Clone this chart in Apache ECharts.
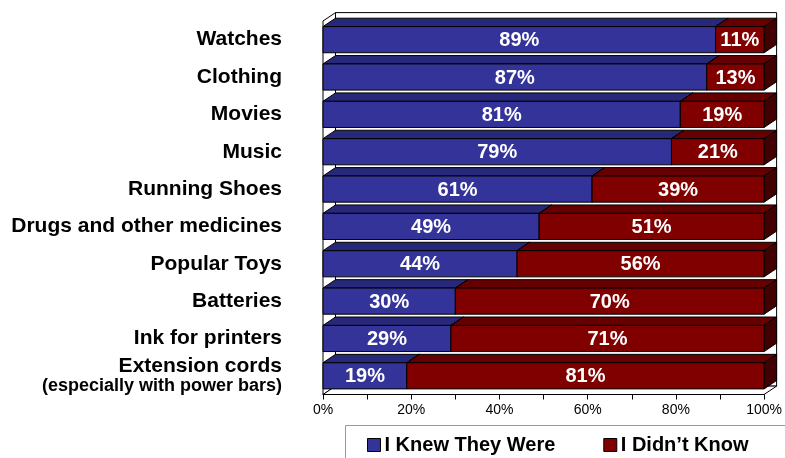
<!DOCTYPE html>
<html>
<head>
<meta charset="utf-8">
<script src="https://cdn.jsdelivr.net/npm/echarts@6/dist/echarts.min.js"></script>
<style>html,body{margin:0;padding:0;background:#fff}#c{width:785px;height:458px}</style>
</head>
<body>
<div id="c"></div>
<script>
const categories = ['Watches','Clothing','Movies','Music','Running Shoes','Drugs and other medicines','Popular Toys','Batteries','Ink for printers','Extension cords'];
const knewValues = [89,87,81,79,61,49,44,30,29,19];
const didntValues = [11,13,19,21,39,51,56,70,71,81];
const seriesNames = ['I Knew They Were','I Didn\u2019t Know'];
const xTicks = [0,20,40,60,80,100];

const DX = 12.5, DY = 8.4;
const FONT = '"Liberation Sans", Arial, sans-serif';

const chart = echarts.init(document.getElementById('c'));

function makeBar(colors) {
  return function (params, api) {
    const start = api.value(0), end = api.value(1), cat = api.value(2), val = api.value(3);
    const p0 = api.coord([start, cat]);
    const p1 = api.coord([end, cat]);
    const bh = api.size([0, 1])[1] * 0.70;
    const x0 = p0[0], x1 = p1[0];
    const yT = p0[1] - bh / 2, yB = p0[1] + bh / 2;
    const stroke = {stroke: '#000', lineWidth: 1};
    return {
      type: 'group',
      children: [
        {type: 'polygon', shape: {points: [[x0, yT], [x1, yT], [x1 + DX, yT - DY], [x0 + DX, yT - DY]]},
         style: Object.assign({fill: colors.top}, stroke)},
        {type: 'polygon', shape: {points: [[x1, yT], [x1 + DX, yT - DY], [x1 + DX, yB - DY], [x1, yB]]},
         style: Object.assign({fill: colors.side}, stroke)},
        {type: 'rect', shape: {x: x0, y: yT, width: x1 - x0, height: bh},
         style: Object.assign({fill: colors.front}, stroke)},
        {type: 'text', x: (x0 + x1) / 2, y: p0[1] + 1,
         style: {text: val + '%', fill: '#fff', font: 'bold 20px ' + FONT, align: 'center', verticalAlign: 'middle'}}
      ]
    };
  };
}

function renderFrame(params, api) {
  const half = api.size([0, 1])[1] / 2;
  const top = api.coord([0, 0])[1] - half;
  const bottom = api.coord([0, categories.length - 1])[1] + half;
  const left = api.coord([0, 0])[0];
  const right = api.coord([100, 0])[0];
  const st = {stroke: '#000', lineWidth: 1};
  return {
    type: 'group',
    children: [
      {type: 'rect', shape: {x: left + DX, y: top - DY, width: right - left, height: bottom - top},
       style: Object.assign({fill: '#fff'}, st)},
      {type: 'polygon', shape: {points: [[left, top], [left + DX, top - DY], [left + DX, bottom - DY], [left, bottom]]},
       style: Object.assign({fill: '#fff'}, st)},
      {type: 'polygon', shape: {points: [[left, bottom], [right, bottom], [right + DX, bottom - DY], [left + DX, bottom - DY]]},
       style: Object.assign({fill: '#fff'}, st)}
    ]
  };
}

const knewData = categories.map((c, i) => [0, knewValues[i], i, knewValues[i]]);
const didntData = categories.map((c, i) => [knewValues[i], knewValues[i] + didntValues[i], i, didntValues[i]]);

chart.setOption({
  animation: false,
  backgroundColor: '#fff',
  textStyle: {fontFamily: FONT},
  grid: {left: 323, right: 18, top: 21, bottom: 63.5, containLabel: false},
  xAxis: {
    type: 'value', min: 0, max: 100, interval: 10,
    axisLine: {show: true, lineStyle: {color: '#000', width: 1}},
    axisTick: {show: true, length: 5, lineStyle: {color: '#000'}},
    splitLine: {show: false},
    axisLabel: {
      margin: 9, color: '#000', fontSize: 14, fontFamily: FONT,
      formatter: v => xTicks.indexOf(v) >= 0 ? v + '%' : ''
    }
  },
  yAxis: {
    type: 'category', inverse: true, data: categories,
    axisLine: {show: true, lineStyle: {color: '#000', width: 1}},
    axisTick: {show: false},
    axisLabel: {
      margin: 41, color: '#000', fontSize: 21, fontWeight: 'bold', fontFamily: FONT,
      formatter: v => v === 'Extension cords' ? 'Extension cords\n{s|(especially with power bars)}' : v,
      rich: {s: {fontSize: 18, fontWeight: 'bold', color: '#000', fontFamily: FONT, lineHeight: 19}},
      lineHeight: 21
    }
  },
  legend: {
    left: 362, top: 430, itemWidth: 13, itemHeight: 13, itemGap: 48,
    icon: 'rect',
    data: seriesNames,
    itemStyle: {borderColor: '#000', borderWidth: 1},
    textStyle: {fontSize: 20, fontWeight: 'bold', color: '#000', fontFamily: FONT, padding: [0, 0, 0, -1]}
  },
  graphic: [
    {type: 'rect', left: 343, top: 423, shape: {width: 460, height: 45}, style: {fill: 'none', stroke: '#999', lineWidth: 1}, z: -1}
  ],
  series: [
    {type: 'custom', name: 'frame', renderItem: renderFrame, data: [[0, 0]], encode: {x: 0, y: 1}, silent: true, z: 1},
    {type: 'custom', name: seriesNames[0], renderItem: makeBar({front: '#333399', top: '#28287a', side: '#1e1e5c'}),
     data: knewData, encode: {x: [0, 1], y: 2}, itemStyle: {color: '#333399'}, z: 2},
    {type: 'custom', name: seriesNames[1], renderItem: makeBar({front: '#800000', top: '#660000', side: '#420000'}),
     data: didntData, encode: {x: [0, 1], y: 2}, itemStyle: {color: '#800000'}, z: 3}
  ]
});
</script>
</body>
</html>
